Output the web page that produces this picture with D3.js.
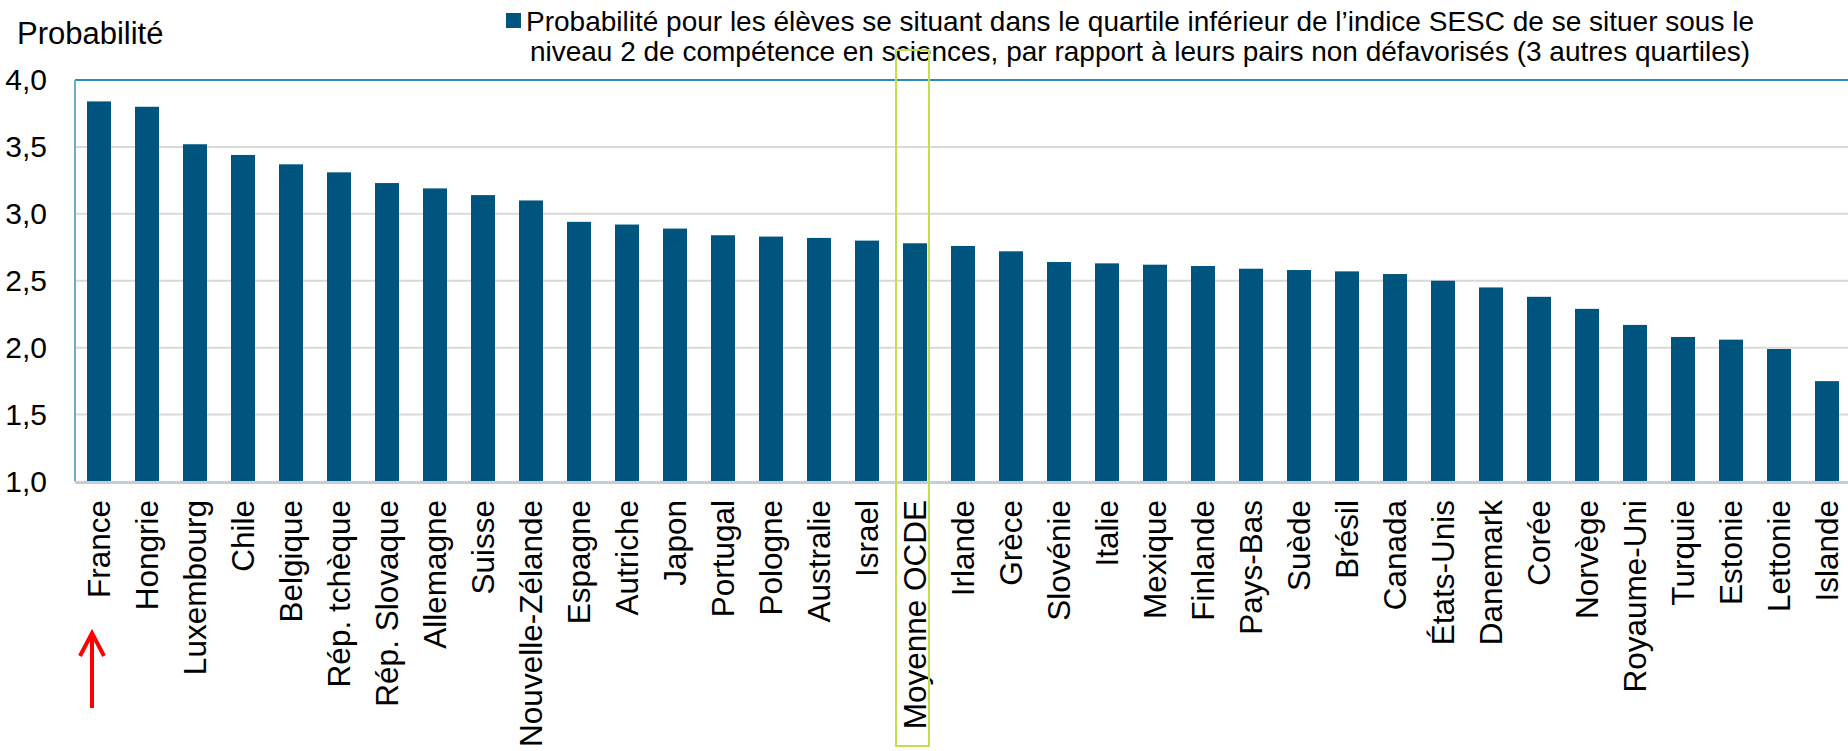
<!DOCTYPE html>
<html>
<head>
<meta charset="utf-8">
<script src="https://cdn.jsdelivr.net/npm/d3@7"></script>
<style>
  body { margin: 0; background: #fff; }
  text { font-family: "Liberation Sans", Arial, sans-serif; fill: #000; }
</style>
</head>
<body>
<svg id="chart" width="1848" height="751"></svg>
<script>
// data
const countries = ["France", "Hongrie", "Luxembourg", "Chile", "Belgique", "Rép. tchèque", "Rép. Slovaque",
  "Allemagne", "Suisse", "Nouvelle-Zélande", "Espagne", "Autriche", "Japon", "Portugal", "Pologne",
  "Australie", "Israel", "Moyenne OCDE", "Irlande", "Grèce", "Slovénie", "Italie", "Mexique", "Finlande",
  "Pays-Bas", "Suède", "Brésil", "Canada", "États-Unis", "Danemark", "Corée", "Norvège", "Royaume-Uni",
  "Turquie", "Estonie", "Lettonie", "Islande"]
const values = [3.84, 3.80, 3.52, 3.44, 3.37, 3.31, 3.23,
  3.19, 3.14, 3.10, 2.94, 2.92, 2.89, 2.84, 2.83,
  2.82, 2.80, 2.78, 2.76, 2.72, 2.64, 2.63, 2.62, 2.61,
  2.59, 2.58, 2.57, 2.55, 2.50, 2.45, 2.38, 2.29, 2.17,
  2.08, 2.06, 1.99, 1.75]
const yTicks = [1.0, 1.5, 2.0, 2.5, 3.0, 3.5, 4.0]
const legendLines = [
  "Probabilité pour les élèves se situant dans le quartile inférieur de l’indice SESC de se situer sous le",
  "niveau 2 de compétence en sciences, par rapport à leurs pairs non défavorisés (3 autres quartiles)"
]
const yTitle = "Probabilité"
const highlight = "Moyenne OCDE"
const arrowAt = "France"

const data = countries.map((c, i) => ({ name: c, value: values[i] }))

const svg = d3.select("#chart")
const plotLeft = 75, plotTop = 80, plotBottom = 481.5
const step = 48

const x = d3.scaleBand()
  .domain(countries)
  .range([plotLeft, plotLeft + step * countries.length])
  .paddingInner(0.5)
  .paddingOuter(0.25)

const y = d3.scaleLinear().domain([1, 4]).range([plotBottom, plotTop])

const fr = d3.formatLocale({ decimal: ",", thousands: " ", grouping: [3], currency: ["", " €"] })
const fmt = fr.format(".1f")

// gridlines
svg.append("g")
  .selectAll("line")
  .data(yTicks.filter(d => d > 1 && d < 4))
  .join("line")
  .attr("x1", plotLeft).attr("x2", 1848)
  .attr("y1", d => y(d)).attr("y2", d => y(d))
  .attr("stroke", "#d9d9d9")
  .attr("stroke-width", 2)

// bars
svg.append("g")
  .selectAll("rect")
  .data(data)
  .join("rect")
  .attr("x", d => x(d.name))
  .attr("width", x.bandwidth())
  .attr("y", d => y(d.value))
  .attr("height", d => y(1) - y(d.value))
  .attr("fill", "#00557f")

// frame: top + left in blue, bottom axis grey
svg.append("line")
  .attr("x1", plotLeft).attr("x2", 1848)
  .attr("y1", y(4)).attr("y2", y(4))
  .attr("stroke", "#2a8bbd").attr("stroke-width", 2)
svg.append("line")
  .attr("x1", plotLeft).attr("x2", plotLeft)
  .attr("y1", y(4)).attr("y2", y(1))
  .attr("stroke", "#6fa9c8").attr("stroke-width", 2)
svg.append("line")
  .attr("x1", plotLeft).attr("x2", 1848)
  .attr("y1", y(1) + 1).attr("y2", y(1) + 1)
  .attr("stroke", "#c3ced6").attr("stroke-width", 3)

// y axis labels
const yAxis = svg.append("g")
  .attr("transform", `translate(${plotLeft - 28},0)`)
  .call(d3.axisLeft(y).tickValues(yTicks).tickFormat(fmt).tickSize(0).tickPadding(0))
yAxis.select(".domain").remove()
yAxis.selectAll("text")
  .attr("font-size", 30)
  .attr("font-family", "Liberation Sans, Arial, sans-serif")
  .attr("fill", "#000")

// y title
svg.append("text")
  .attr("x", 17).attr("y", 44)
  .attr("font-size", 31)
  .text(yTitle)

// category labels
svg.append("g")
  .selectAll("text")
  .data(countries)
  .join("text")
  .attr("transform", d => `translate(${x(d) + x.bandwidth() / 2 + 11},500) rotate(-90)`)
  .attr("text-anchor", "end")
  .attr("font-size", 31.5)
  .text(d => d)

// legend
svg.append("rect")
  .attr("x", 506).attr("y", 13)
  .attr("width", 15).attr("height", 15)
  .attr("fill", "#00557f")
svg.append("g")
  .selectAll("text")
  .data(legendLines)
  .join("text")
  .attr("x", 1140)
  .attr("y", (d, i) => 31 + i * 30)
  .attr("text-anchor", "middle")
  .attr("font-size", 28)
  .text(d => d)

// highlight box around OCDE average
const hx = x(highlight) + x.bandwidth() / 2
svg.append("rect")
  .attr("x", hx - 19).attr("y", 50)
  .attr("width", 33).attr("height", 696)
  .attr("fill", "none")
  .attr("stroke", "#c5de4c")
  .attr("stroke-width", 2)

// red arrow under France
const ax = x(arrowAt) + x.bandwidth() / 2 - 7
svg.append("line")
  .attr("x1", ax).attr("x2", ax)
  .attr("y1", 708).attr("y2", 636)
  .attr("stroke", "#ff0000").attr("stroke-width", 4)
svg.append("path")
  .attr("d", `M${ax - 12},656 L${ax},633 L${ax + 12},656`)
  .attr("fill", "none")
  .attr("stroke", "#ff0000").attr("stroke-width", 4)
</script>
</body>
</html>
